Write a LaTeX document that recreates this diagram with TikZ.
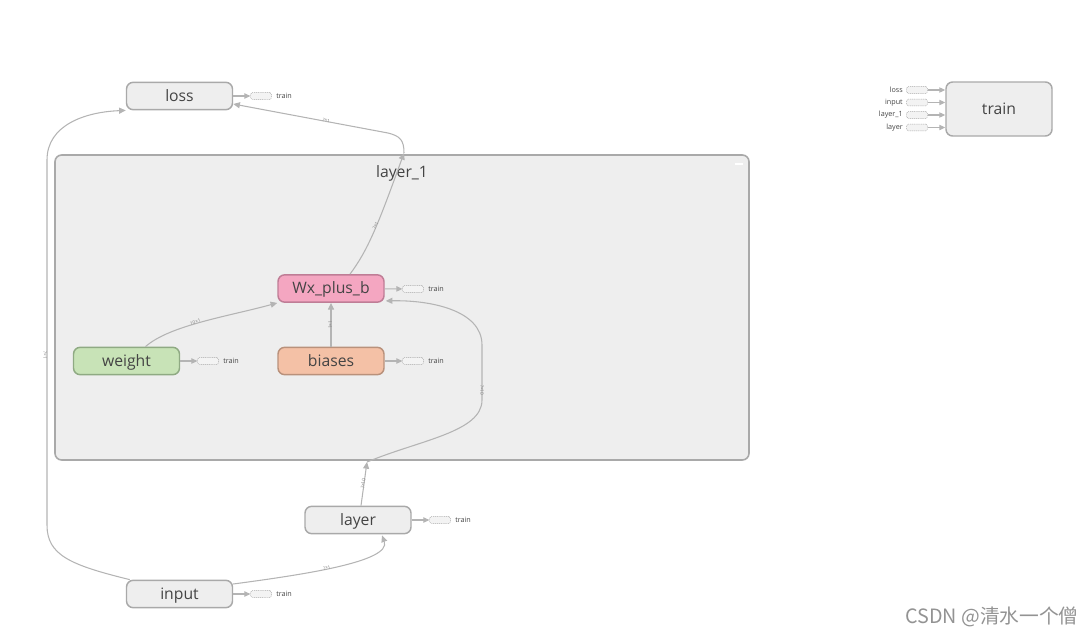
\documentclass[tikz,border=0pt]{standalone}
\usepackage{fontspec}
\setmainfont{Open Sans}
\newfontfamily\cjk{Noto Sans CJK SC}
\usetikzlibrary{arrows.meta,calc}
\definecolor{nfill}{HTML}{EEEEEE}
\definecolor{nborder}{HTML}{A9A9A9}
\definecolor{edgec}{HTML}{B4B4B4}
\definecolor{txtc}{HTML}{444444}
\definecolor{wxfill}{HTML}{F4A6C1}
\definecolor{wxborder}{HTML}{BF7D96}
\definecolor{wfill}{HTML}{C8E3B7}
\definecolor{wborder}{HTML}{8FAA83}
\definecolor{bfill}{HTML}{F4C1A6}
\definecolor{bborder}{HTML}{B9917B}
\definecolor{auxfill}{HTML}{F3F3F3}
\definecolor{auxborder}{HTML}{A8A8A8}
\begin{document}
\begin{tikzpicture}[x=0.75pt,y=-0.75pt,
  opnode/.style={draw=nborder, fill=nfill, rounded corners=5pt, line width=1.1pt,
    minimum width=79.5pt, minimum height=20.5pt, inner sep=0pt, text=txtc,
    text height=8pt, text depth=0pt,
    font=\fontsize{11.8}{12}\selectfont},
  clusterbox/.style={draw=nborder, fill=nfill, rounded corners=5pt, line width=1.2pt,
    minimum width=520.5pt, minimum height=228.75pt, inner sep=0pt},
  auxbox/.style={draw=auxborder, fill=auxfill, dash pattern=on 0.8pt off 0.6pt, line width=0.35pt,
    rounded corners=1pt, minimum width=15.5pt, minimum height=5pt, inner sep=0pt},
  auxtxt/.style={text=txtc, font=\fontsize{5.4}{6}\selectfont, inner sep=0pt, anchor=west},
  intxt/.style={text=txtc, font=\fontsize{5.4}{6}\selectfont, inner sep=0pt, anchor=east},
  edge/.style={draw=edgec, line width=0.8pt, -{Triangle[length=5pt,width=4.5pt]}},
  auxedge/.style={draw=edgec, line width=0.8pt, -{Triangle[length=4.5pt,width=4pt]}},
  lbl/.style={text=gray, font=\fontsize{3.5}{4}\selectfont, inner sep=0.5pt, fill=none, sloped}
]
\useasboundingbox (0,0) rectangle (1092,637);

% cluster
\node[clusterbox] (layer1) at (402,307.5) {};
\node[text=txtc, font=\fontsize{11.8}{12}\selectfont, inner sep=0pt, text height=8pt, text depth=0pt] (layer1lbl) at (402,172.5) {layer\_1};
\draw[white, line width=1.2pt] (735,164) -- (743,164);

% nodes
\node[opnode] (loss) at (179.5,96) {loss};
\node[opnode, minimum height=40.5pt] (train) at (999,109) {train};
\node[opnode, fill=wxfill, draw=wxborder] (wx) at (331,288.5) {Wx\_plus\_b};
\node[opnode, fill=wfill, draw=wborder] (weight) at (126.5,361) {weight};
\node[opnode, fill=bfill, draw=bborder] (biases) at (331,361) {biases};
\node[opnode] (layer) at (358,520) {layer};
\node[opnode] (input) at (179.5,594) {input};

% aux "train" boxes to the right of nodes
\node[auxbox] (lossT) at (261,96) {};
\node[auxtxt] (lossTt) at (276,96) {train};
\draw[auxedge] (loss) -- (lossT);
\node[auxbox] (wxT) at (413,289) {};
\node[auxtxt] (wxTt) at (428,289) {train};
\draw[auxedge] (wx) -- (wxT);
\node[auxbox] (weightT) at (208,361) {};
\node[auxtxt] (weightTt) at (223,361) {train};
\draw[auxedge] (weight) -- (weightT);
\node[auxbox] (biasesT) at (413,361) {};
\node[auxtxt] (biasesTt) at (428,361) {train};
\draw[auxedge] (biases) -- (biasesT);
\node[auxbox] (layerT) at (440,520) {};
\node[auxtxt] (layerTt) at (455,520) {train};
\draw[auxedge] (layer) -- (layerT);
\node[auxbox] (inputT) at (261,594) {};
\node[auxtxt] (inputTt) at (276,594) {train};
\draw[auxedge] (input) -- (inputT);

% inputs to train
\foreach \nm/\yy/\t in {a/90/loss, b/102.5/input, c/115/layer\_1, d/127.5/layer}{
  \node[auxbox] (tin\nm) at (917,\yy) {};
  \node[intxt] (tin\nm t) at (903,\yy) {\t};
  \draw[auxedge] (tin\nm.east) -- (tin\nm.east -| train.west);
}

% coordinates on cluster boundary
\coordinate (l1top) at (404,153);
\coordinate (l1bot) at (367,462);

% edges
\draw[edge] (weight.north) ++(19,0) .. controls (170,325) and (230,316) .. (wx.south west)
  node[lbl, pos=0.45, above=-1pt] {10×1};
\draw[edge] (biases) -- (wx) node[lbl, midway, above=-1.5pt] {1×1};
\draw[edge] ($(wx.north)+(19,0)$) .. controls (368,250) and (378,225) .. (l1top)
  node[lbl, pos=0.55, above=-1.5pt] {?×1};
\draw[edge] (l1top) .. controls (404,140) and (400,136) .. (388,133) -- ($(loss.east)+(0,8)$)
  node[lbl, pos=0.4, above=-1.5pt] {?×1};
\draw[edge] ($(layer.north)+(3,0)$) -- (l1bot) node[lbl, midway, above=-1.5pt] {?×10};
\draw[edge] (l1bot) .. controls (420,440) and (482,432) .. (482,400) -- (482,345)
  .. controls (482,310) and (430,300) .. ($(wx.south east)+(1,-2)$);
\node[lbl, rotate=-90] (lbl6) at (482,390) {?×10};
\draw[edge] ($(input.east)+(0,-10)$) .. controls (300,575) and (392,562) .. ($(layer.south)+(24,1)$)
  node[lbl, pos=0.45, above=-1.5pt] {?×1};
\draw[edge] ($(input.north west)+(4,0)$) .. controls (70,565) and (47,555) .. (47,525) -- (47,160)
  .. controls (47,125) and (85,112) .. (loss.south west);
\node[lbl, rotate=-90] (lbl8) at (45,355) {?×1};

% watermark
\node[text=gray!85, font=\cjk\fontsize{14.8}{16}\selectfont, inner sep=0pt] (wm) at (992,617) {CSDN @清水一个僧};
\end{tikzpicture}
\end{document}
